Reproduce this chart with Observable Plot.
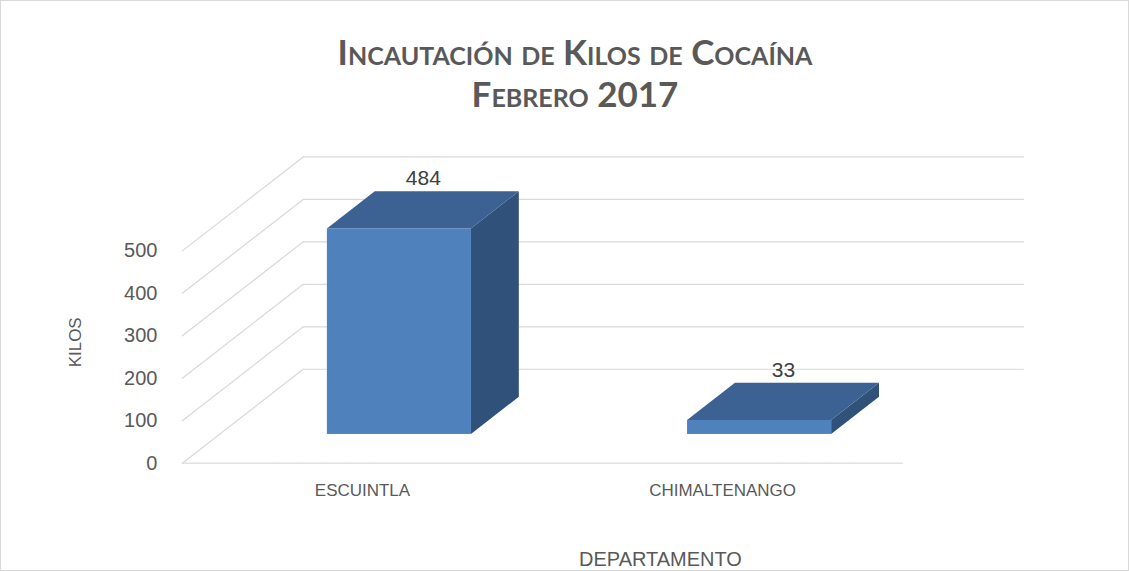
<!DOCTYPE html>
<html>
<head>
<meta charset="utf-8">
<script src="https://cdn.jsdelivr.net/npm/d3@7"></script>
<script src="https://cdn.jsdelivr.net/npm/@observablehq/plot@0.6"></script>
<style>
  html, body { margin: 0; padding: 0; background: #ffffff; }
  #frame { position: relative; width: 1129px; height: 571px; box-sizing: border-box; border: 1px solid #d9d9d9; overflow: hidden; }
  #title {
    height: 119px; box-sizing: border-box; padding-top: 29px; padding-left: 21px;
    text-align: center; font-family: Lato, "Open Sans", sans-serif; font-weight: 700;
    font-variant: small-caps; color: #595959; font-size: 35px; line-height: 42px;
  }
  #chart { margin-left: -1px; }
  #chart svg { display: block; }
</style>
</head>
<body>
<div id="frame">
<div id="title">Incautación de Kilos de Cocaína<br>Febrero 2017</div>
<div id="chart"></div>
</div>
<script>
// ---- data ----
const categories = ["ESCUINTLA", "CHIMALTENANGO"];
const kilos = [484, 33];
const yTicks = [0, 100, 200, 300, 400, 500];
const yAxisTitle = "KILOS";
const xAxisTitle = "DEPARTAMENTO";

// ---- oblique 3-D projection parameters (layout) ----
const DEPTH_X = 0.3356;   // full wall depth in x-units
const DEPTH_Y = 221.2;    // full wall depth in y-units
const D_FRONT = 0.306, D_BACK = 0.702, D_MID = (D_FRONT + D_BACK) / 2;
const HALF = 0.2;
const C_FRONT = "#4F81BD", C_TOP = "#3C6193", C_SIDE = "#30527A";
const GRID = "#d9d9d9", TXT = "#595959";

const bars = categories.map((c, i) => ({c, i, v: kilos[i]}));

const backLines = yTicks.flatMap(t => [0, 2].map(u => ({t, x: u + DEPTH_X, y: t + DEPTH_Y})));
const wallLines = yTicks.flatMap(t => [0, 1].map(d => ({t, x: d * DEPTH_X, y: t + d * DEPTH_Y})));
const floorLine = [0, 2].map(u => ({x: u, y: 0}));

const topPts = bars.flatMap(b => [D_FRONT, D_BACK].map(d => ({
  i: b.i, y: b.v + d * DEPTH_Y,
  x1: b.i + 0.5 - HALF + d * DEPTH_X, x2: b.i + 0.5 + HALF + d * DEPTH_X
})));
const sidePts = bars.flatMap(b => [D_FRONT, D_BACK].map(d => ({
  i: b.i, x: b.i + 0.5 + HALF + d * DEPTH_X, y1: d * DEPTH_Y, y2: b.v + d * DEPTH_Y
})));

const chart = Plot.plot({
  width: 1129,
  height: 451,
  marginLeft: 182,
  marginRight: 104,
  marginTop: 20,
  marginBottom: 27,
  style: {fontFamily: "'Liberation Sans', Arial, sans-serif", color: TXT, background: "white"},
  x: {domain: [0, 2], range: [182, 903], axis: null},
  y: {domain: [0, 1000], range: [343, -82], axis: null},
  marks: [
    Plot.line(backLines, {x: "x", y: "y", z: "t", stroke: GRID, strokeWidth: 1.2}),
    Plot.line(wallLines, {x: "x", y: "y", z: "t", stroke: GRID, strokeWidth: 1.2}),
    Plot.line(floorLine, {x: "x", y: "y", stroke: GRID, strokeWidth: 1.2, strokeDasharray: "2,1"}),
    Plot.area(sidePts, {x1: "x", y1: "y1", y2: "y2", z: "i", fill: C_SIDE, curve: "linear"}),
    Plot.area(topPts, {y1: "y", x1: "x1", x2: "x2", z: "i", fill: C_TOP, curve: "linear"}),
    Plot.rect(bars, {
      x1: b => b.i + 0.5 - HALF + D_FRONT * DEPTH_X,
      x2: b => b.i + 0.5 + HALF + D_FRONT * DEPTH_X,
      y1: () => D_FRONT * DEPTH_Y,
      y2: b => b.v + D_FRONT * DEPTH_Y,
      fill: C_FRONT
    }),
    Plot.text(bars, {
      x: b => b.i + 0.5 + D_MID * DEPTH_X,
      y: b => b.v + D_MID * DEPTH_Y,
      text: b => String(b.v), dy: -32, fontSize: 21, fill: "#404040"
    }),
    Plot.text(yTicks, {x: () => 0, y: d => d, text: d => String(d), textAnchor: "end", dx: -25, fontSize: 20, fill: TXT}),
    Plot.text(bars, {x: b => b.i + 0.5, y: () => 0, text: "c", dy: 27, fontSize: 17, fill: TXT}),
    Plot.text([yAxisTitle], {frameAnchor: "left", textAnchor: "middle", lineAnchor: "middle", text: d => d, rotate: -90, dx: -107, fontSize: 17, fill: TXT}),
    Plot.text([xAxisTitle], {frameAnchor: "bottom", textAnchor: "middle", lineAnchor: "middle", text: d => d, dx: 57, dy: 15, fontSize: 20, fill: TXT})
  ]
});
document.getElementById("chart").appendChild(chart);
</script>
</body>
</html>
